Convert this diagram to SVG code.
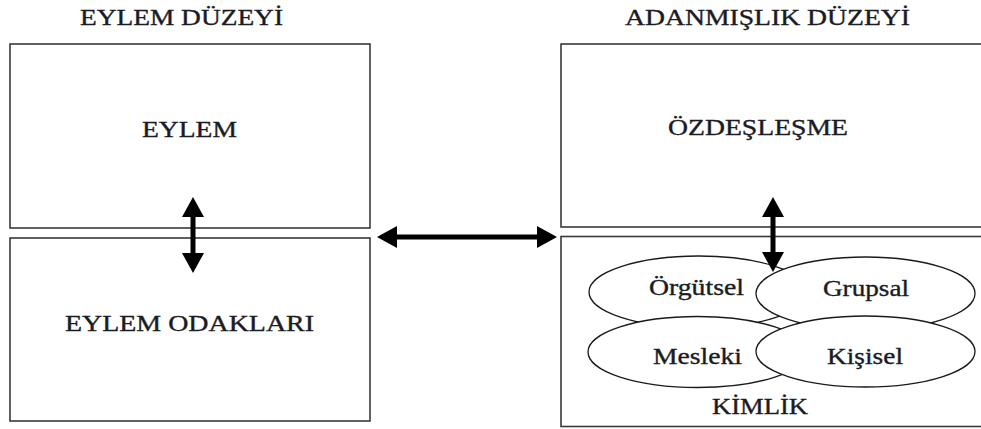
<svg xmlns="http://www.w3.org/2000/svg" width="981" height="429" viewBox="0 0 981 429">
  <style>
    .box { fill: #ffffff; stroke: #3a3a3a; stroke-width: 1.6; }
    .oval { fill: #ffffff; stroke: #1a1a1a; stroke-width: 1.3; }
    .lbl { font-family: "Liberation Serif", "Times New Roman", serif; font-size: 22.5px; fill: #1b1b24; stroke: #1b1b24; stroke-width: 0.35; }
    .shaft { stroke: #000000; stroke-width: 5; fill: none; }
  </style>
  <defs>
    <marker id="head" viewBox="0 0 20 22" refX="10" refY="11" markerWidth="20" markerHeight="22" markerUnits="userSpaceOnUse" orient="auto-start-reverse">
      <path d="M0,0 L20,11 L0,22 Z" fill="#000000"/>
    </marker>
  </defs>
  <rect width="981" height="429" fill="#ffffff"/>

  <!-- level headings -->
  <text class="lbl" x="80" y="25" textLength="203" lengthAdjust="spacingAndGlyphs">EYLEM DÜZEYİ</text>
  <text class="lbl" x="625" y="25" textLength="285" lengthAdjust="spacingAndGlyphs">ADANMIŞLIK DÜZEYİ</text>

  <g id="eylem">
    <rect class="box" x="10" y="44" width="360" height="184"/>
    <text class="lbl" x="142" y="137" textLength="95" lengthAdjust="spacingAndGlyphs">EYLEM</text>
  </g>

  <g id="eylem-odaklari">
    <rect class="box" x="10" y="238" width="360" height="183"/>
    <text class="lbl" x="65" y="331" textLength="249" lengthAdjust="spacingAndGlyphs">EYLEM ODAKLARI</text>
  </g>

  <g id="ozdeslesme">
    <rect class="box" x="561" y="44" width="430" height="183"/>
    <text class="lbl" x="668" y="135" textLength="180" lengthAdjust="spacingAndGlyphs">ÖZDEŞLEŞME</text>
  </g>

  <g id="kimlik">
    <rect class="box" x="561" y="236.5" width="430" height="190"/>
    <text class="lbl" x="712" y="414" textLength="96" lengthAdjust="spacingAndGlyphs">KİMLİK</text>
  </g>

  <g id="orgutsel">
    <ellipse class="oval" cx="698.5" cy="292" rx="109.5" ry="36"/>
    <text class="lbl" x="649" y="295" textLength="95" lengthAdjust="spacingAndGlyphs">Örgütsel</text>
  </g>

  <g id="grupsal">
    <ellipse class="oval" cx="865.5" cy="293.5" rx="109.5" ry="36.5"/>
    <text class="lbl" x="823" y="296" textLength="86" lengthAdjust="spacingAndGlyphs">Grupsal</text>
  </g>

  <g id="mesleki">
    <ellipse class="oval" cx="697.5" cy="352" rx="109.5" ry="35.5"/>
    <text class="lbl" x="653" y="364" textLength="89" lengthAdjust="spacingAndGlyphs">Mesleki</text>
  </g>

  <g id="kisisel">
    <ellipse class="oval" cx="865.5" cy="351.5" rx="109.5" ry="35.5"/>
    <text class="lbl" x="827" y="364" textLength="76" lengthAdjust="spacingAndGlyphs">Kişisel</text>
  </g>

  <g id="connectors">
    <line class="shaft" x1="193" y1="207" x2="193" y2="263" marker-start="url(#head)" marker-end="url(#head)"/>
    <line class="shaft" x1="773" y1="207" x2="773" y2="262" marker-start="url(#head)" marker-end="url(#head)"/>
    <line class="shaft" x1="387" y1="237" x2="547" y2="237" marker-start="url(#head)" marker-end="url(#head)"/>
  </g>
</svg>
